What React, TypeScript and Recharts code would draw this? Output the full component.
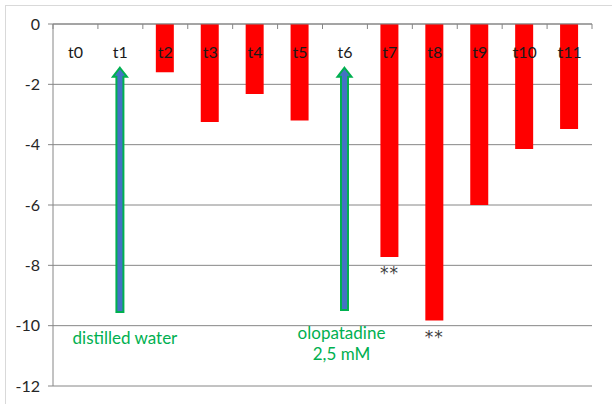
import React from "react";
import {
  BarChart,
  Bar,
  XAxis,
  YAxis,
  CartesianGrid,
  LabelList,
} from "recharts";

const categories = ["t0", "t1", "t2", "t3", "t4", "t5", "t6", "t7", "t8", "t9", "t10", "t11"];
const effect = [0, 0, -1.6, -3.25, -2.32, -3.2, 0, -7.72, -9.83, -6.0, -4.14, -3.48];
const stars = ["", "", "", "", "", "", "", "**", "**", "", "", ""];
// arrows drawn as range bars: [bottom, tip]
const arrowLow = [null, -9.55, null, null, null, null, -9.48, null, null, null, null, null];
const arrowHigh = [null, -1.45, null, null, null, null, -1.45, null, null, null, null, null];
const arrowText = ["", "distilled water", "", "", "", "", "olopatadine|2,5 mM", "", "", "", "", ""];
const yTicks = [-12, -10, -8, -6, -4, -2, 0];

const data = categories.map((name, i) => ({
  name,
  effect: effect[i],
  star: stars[i],
  arrow: arrowLow[i] == null ? null : [arrowLow[i], arrowHigh[i]],
  note: arrowText[i],
}));

const FONT = "Lato, 'Liberation Sans', sans-serif";
const GREEN = "#00B050";

const TopTick = (props: any) => {
  const { x, y, payload, index } = props;
  const half = payload && payload.offset ? payload.offset : 22.45;
  return (
    <g>
      <line x1={x - half} x2={x - half} y1={y} y2={y + 5} stroke="#868686" />
      {index === categories.length - 1 && (
        <line x1={x + half} x2={x + half} y1={y} y2={y + 5} stroke="#868686" />
      )}
      <text x={x} y={y + 34} textAnchor="middle" fontSize={16} fontFamily={FONT} fill="#1a1a1a">
        {payload.value}
      </text>
    </g>
  );
};

const ArrowShape = (props: any) => {
  const { x, y, width, height } = props;
  if (x == null || !height) return null;
  const cx = x + width / 2;
  const top = Math.min(y, y + height);
  const bottom = Math.max(y, y + height);
  const hw = 3.5;
  const headW = 7;
  const headH = 9;
  const pts = [
    [cx, top],
    [cx + headW, top + headH],
    [cx + hw, top + headH],
    [cx + hw, bottom],
    [cx - hw, bottom],
    [cx - hw, top + headH],
    [cx - headW, top + headH],
  ]
    .map((p) => p.join(","))
    .join(" ");
  return <polygon points={pts} fill="#4472C4" stroke={GREEN} strokeWidth={2} strokeLinejoin="miter" />;
};

const NoteLabel = (props: any) => {
  const { x, y, width, height, value } = props;
  if (!value) return null;
  const bottom = Math.max(y, y + height);
  const cx = x + width / 2;
  const lines = String(value).split("|");
  if (lines.length === 1) {
    return (
      <text x={cx + 5} y={bottom + 32} textAnchor="middle" fontSize={17} fontFamily={FONT} fill={GREEN}>
        {lines[0]}
      </text>
    );
  }
  return (
    <text textAnchor="middle" fontSize={17} fontFamily={FONT} fill={GREEN}>
      {lines.map((l, i) => (
        <tspan key={i} x={cx - 3} y={bottom + 29 + i * 21}>
          {l}
        </tspan>
      ))}
    </text>
  );
};

const StarLabel = (props: any) => {
  const { x, y, width, height, value } = props;
  if (!value) return null;
  const bottom = Math.max(y, y + height);
  return (
    <text x={x + width / 2} y={bottom + 22} textAnchor="middle" fontSize={17} fontFamily="'DejaVu Sans', sans-serif" fill="#404040" letterSpacing={1}>
      {value}
    </text>
  );
};

export default function App() {
  return (
    <div style={{ position: "absolute", left: 0, top: 0, width: 612, height: 404, background: "#fff", overflow: "hidden" }}>
      <div
        style={{
          position: "absolute",
          left: 5,
          top: 5,
          width: 607,
          height: 399,
          borderLeft: "1.5px solid #d9d9d9",
          borderTop: "1.5px solid #d9d9d9",
          boxSizing: "border-box",
        }}
      />
      <BarChart
        width={612}
        height={404}
        data={data}
        margin={{ top: 0, right: 20, bottom: 18, left: 0 }}
        barCategoryGap="30%"
      >
        <CartesianGrid vertical={false} stroke="#868686" />
        <XAxis
          dataKey="name"
          orientation="top"
          height={24}
          axisLine={{ stroke: "#868686" }}
          tickLine={false}
          tickSize={0}
          tickMargin={0}
          tick={<TopTick />}
          interval={0}
        />
        <XAxis xAxisId="arrow" dataKey="name" hide />
        <YAxis
          domain={[-12, 0]}
          ticks={yTicks}
          width={53}
          tickSize={5}
          tickMargin={8}
          axisLine={{ stroke: "#868686" }}
          tickLine={{ stroke: "#868686" }}
          tick={{ fontSize: 16, fontFamily: FONT, fill: "#262626" }}
          interval={0}
        />
        <Bar dataKey="effect" fill="#FF0000" barSize={18} isAnimationActive={false}>
          <LabelList dataKey="star" content={<StarLabel />} />
        </Bar>
        <Bar
          dataKey="arrow"
          xAxisId="arrow"
          barSize={18}
          shape={<ArrowShape />}
          isAnimationActive={false}
        >
          <LabelList dataKey="note" content={<NoteLabel />} />
        </Bar>
      </BarChart>
    </div>
  );
}
